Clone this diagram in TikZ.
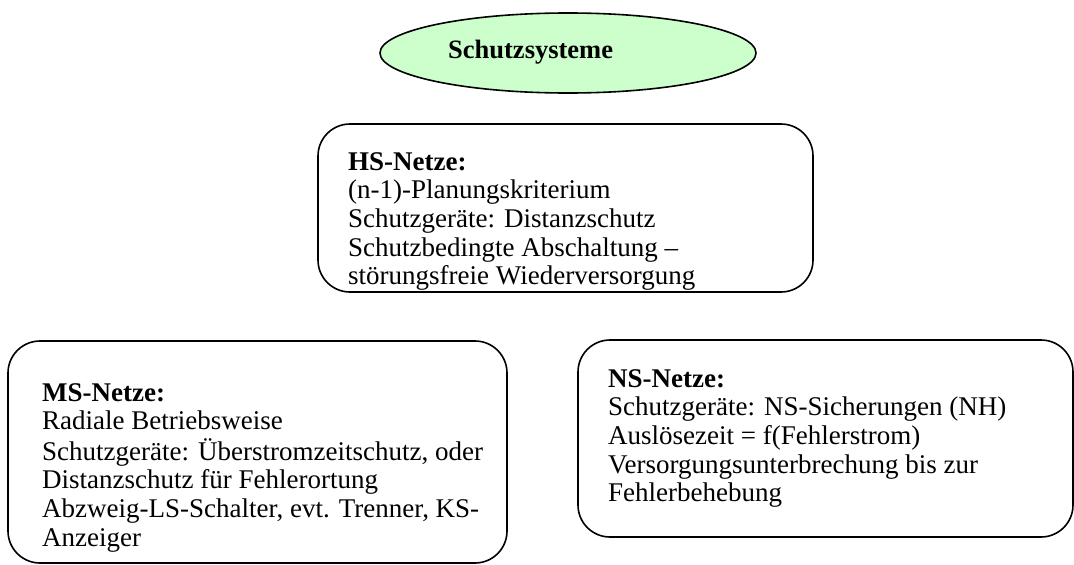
\documentclass[tikz,border=0pt]{standalone}
\usepackage{fontspec}
\setmainfont{Liberation Serif}
\usetikzlibrary{shapes.geometric}
\definecolor{ellgreen}{RGB}{204,255,204}
\begin{document}
\begin{tikzpicture}[x=1pt,y=-1pt,
  box/.style={draw, line width=1.6pt, rounded corners=32pt, inner sep=0pt},
  txt/.style={anchor=base west, inner sep=0pt, font=\fontsize{27}{28.7}\selectfont},
]
\useasboundingbox (0,0) rectangle (1074,565);
\node[ellipse, draw, fill=ellgreen, line width=1.6pt, inner sep=0pt,
      minimum width=376pt, minimum height=80pt] (top) at (568,53) {};
\node[txt, font=\fontsize{26.5}{28.7}\selectfont\bfseries] (toptext) at (448,58) {Schutzsysteme};

\node[box, minimum width=495pt, minimum height=168pt] (hs) at (565.5,208) {};
\node[box, minimum width=499pt, minimum height=222pt] (ms) at (257.5,452) {};
\node[box, minimum width=495pt, minimum height=197pt] (ns) at (825.5,438.5) {};

\node[txt] (hstext) at (348,170) {\begin{tabular}[t]{@{}l@{}}\textbf{HS-Netze:}\\
(n-1)-Planungskriterium\\
Schutzgeräte: Distanzschutz\\
Schutzbedingte Abschaltung –\\
störungsfreie Wiederversorgung\end{tabular}};

\node[txt] (mstext) at (42,401) {\begin{tabular}[t]{@{}l@{}}\textbf{MS-Netze:}\\
Radiale Betriebsweise\\
Schutzgeräte: Überstromzeitschutz, oder\\
Distanzschutz für Fehlerortung\\
Abzweig-LS-Schalter, evt. Trenner, KS-\\
Anzeiger\end{tabular}};

\node[txt] (nstext) at (608,387) {\begin{tabular}[t]{@{}l@{}}\textbf{NS-Netze:}\\
Schutzgeräte: NS-Sicherungen (NH)\\
Auslösezeit = f(Fehlerstrom)\\
Versorgungsunterbrechung bis zur\\
Fehlerbehebung\end{tabular}};
\end{tikzpicture}
\end{document}
